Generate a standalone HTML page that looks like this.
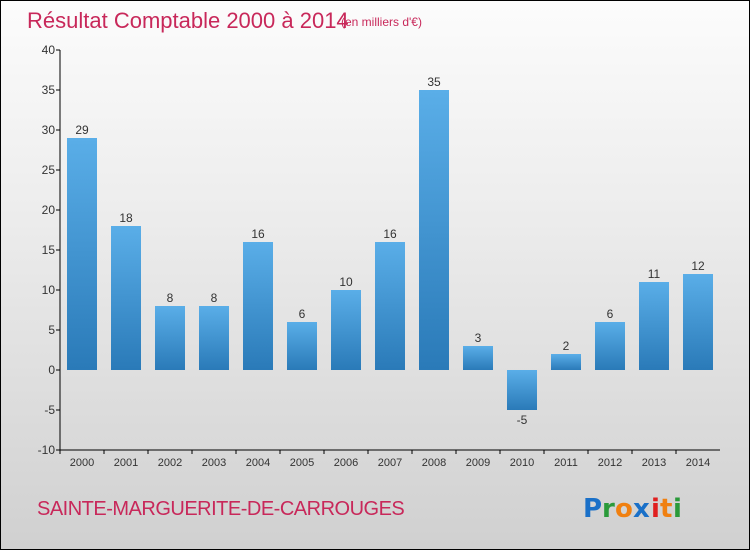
<!DOCTYPE html>
<html><head><meta charset="utf-8"><style>
html,body{margin:0;padding:0}
body{width:750px;height:550px;overflow:hidden;font-family:"Liberation Sans",sans-serif}
#wrap{position:relative;width:748px;height:548px;border:1px solid #000;background:linear-gradient(#fcfcfc,#ececec 40%,#d0d0d0)}
</style></head><body>
<div id="wrap">
<svg width="748" height="548" xmlns="http://www.w3.org/2000/svg" id="svg">
<defs><linearGradient id="bg" x1="0" y1="0" x2="0" y2="1"><stop offset="0" stop-color="#5aaee8"/><stop offset="1" stop-color="#2a7ab8"/></linearGradient></defs>
<text x="26" y="27" font-size="22" fill="#c8285a">Résultat Comptable 2000 à 2014</text>
<text x="340" y="25" font-size="12" fill="#c8285a">(en milliers d'€)</text>
<text x="36" y="514" font-size="20" fill="#c8285a" letter-spacing="-0.5">SAINTE-MARGUERITE-DE-CARROUGES</text>
<g font-size="26" font-weight="bold" font-family="'DejaVu Sans',sans-serif">
<text x="582" y="516" fill="#1a70c8">P</text><text x="601" y="516" fill="#2a9a3a">r</text><text x="614" y="516" fill="#f08010">o</text><text x="632" y="516" fill="#1a70c8">x</text><text x="650" y="516" fill="#e02020">i</text><text x="659" y="516" fill="#f08010">t</text><text x="672" y="516" fill="#2a9a3a">i</text>
</g>
<g id="plot"></g>
</svg>
</div>
<script>
const years=["2000","2001","2002","2003","2004","2005","2006","2007","2008","2009","2010","2011","2012","2013","2014"];
const values=[29,18,8,8,16,6,10,16,35,3,-5,2,6,11,12];
const ticks=[-10,-5,0,5,10,15,20,25,30,35,40];
const ns="http://www.w3.org/2000/svg";
const g=document.getElementById('plot');
const y=v=>369-(v*8);
const x=i=>81+i*44;
function mk(t,a){const e=document.createElementNS(ns,t);for(const k in a)e.setAttribute(k,a[k]);g.appendChild(e);return e;}
let ax=mk('line',{x1:59,y1:y(40),x2:59,y2:y(-10),stroke:'#000'});


let xa=mk('line',{x1:59,y1:y(-10),x2:719,y2:y(-10),stroke:'#000'});


ticks.forEach(t=>{
 const l=mk('line',{x1:55,y1:y(t),x2:59,y2:y(t),stroke:'#000'});
 
 
 const tx=mk('text',{x:54,y:y(t)+4,'font-size':12,fill:'#333','text-anchor':'end'});
 tx.textContent=t;
 
 
});
years.forEach((yr,i)=>{
 const v=values[i];
 const top=Math.min(y(v),y(0)),h=Math.abs(y(v)-y(0));
 const b=mk('rect',{x:x(i)-15,y:top,width:30,height:h,fill:'url(#bg)'});
 
 
 const vl=mk('text',{x:x(i),y:v>=0?y(v)-4:y(v)+14,'font-size':12,fill:'#333','text-anchor':'middle'});
 vl.textContent=v;
 
 
 const tk=mk('line',{x1:x(i)-22,y1:y(-10),x2:x(i)-22,y2:y(-10)+4,stroke:'#000'});
 
 
 const xl=mk('text',{x:x(i),y:y(-10)+16,'font-size':11,fill:'#333','text-anchor':'middle'});
 xl.textContent=yr;
 
 
});
</script>
</body></html>
